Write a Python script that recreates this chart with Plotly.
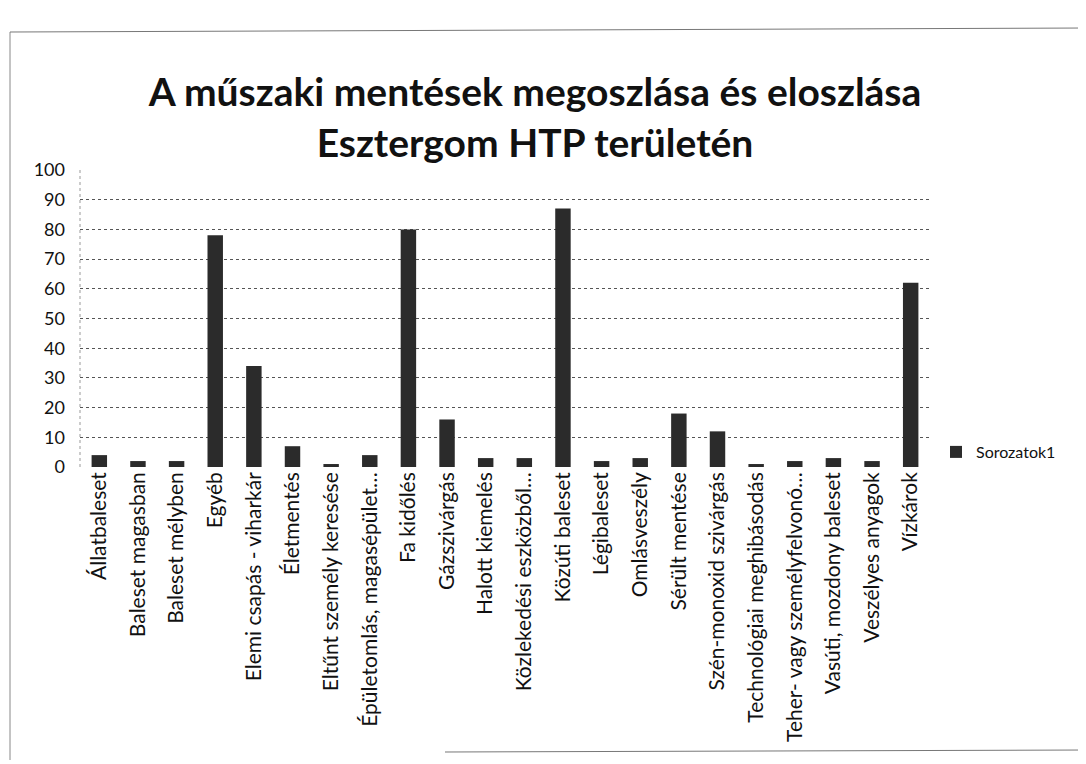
import plotly.graph_objects as go

categories = [
    "Állatbaleset", "Baleset magasban", "Baleset mélyben", "Egyéb",
    "Elemi csapás - viharkár", "Életmentés", "Eltűnt személy keresése",
    "Épületomlás, magasépület…", "Fa kidőlés", "Gázszivárgás",
    "Halott kiemelés", "Közlekedési eszközből…", "Közúti baleset",
    "Légibaleset", "Omlásveszély", "Sérült mentése", "Szén-monoxid szivárgás",
    "Technológiai meghibásodás", "Teher- vagy személyfelvonó…",
    "Vasúti, mozdony baleset", "Veszélyes anyagok", "Vízkárok",
]
values = [4, 2, 2, 78, 34, 7, 1, 4, 80, 16, 3, 3, 87, 2, 3, 18, 12, 1, 2, 3, 2, 62]
series_name = "Sorozatok1"
title_text = "A műszaki mentések megoszlása és eloszlása<br>Esztergom HTP területén"
y_ticks = list(range(0, 101, 10))

OFF = 8  # page body margin
W, H = 1086, 764
L, T = 80 - OFF, 170 - OFF
pw, ph = 850, 297
R = W - L - pw
B = H - T - ph

def px_x(x):
    return (x - OFF - L) / pw

def px_y(y):
    return (T + ph - (y - OFF)) / ph

fig = go.Figure()
fig.add_trace(go.Bar(
    x=categories, y=values, name=series_name,
    marker=dict(color="#2b2b2b", line=dict(width=0)),
    showlegend=True,
))

fig.update_layout(
    width=W, height=H,
    margin=dict(l=L, r=R, t=T, b=B),
    paper_bgcolor="white", plot_bgcolor="white",
    font=dict(family="Lato, Liberation Sans, sans-serif", color="#111111"),
    title=dict(text=title_text, x=(535 - OFF) / W, xanchor="center",
               y=1 - (106 - OFF) / H, yanchor="middle",
               font=dict(family="Lato, Open Sans, sans-serif", size=39, color="#111111",
                         weight="bold")),
    bargap=0.6,
    showlegend=True,
    legend=dict(x=px_x(936), y=px_y(452), xanchor="left", yanchor="middle",
                font=dict(size=16, color="#111111"), bgcolor="rgba(0,0,0,0)",
                itemwidth=30),
    xaxis=dict(tickangle=-90, tickfont=dict(size=21, color="#111111"),
               showline=False, showgrid=False, ticks=""),
    yaxis=dict(range=[0, 100], tickvals=y_ticks, ticktext=[str(v) for v in y_ticks],
               tickfont=dict(size=18, color="#111111"),
               showgrid=True, gridcolor="#555555", griddash="dot", gridwidth=1,
               zeroline=False, showline=False, ticklabelstandoff=14),
)

# chart frame
fig.add_shape(type="line", xref="paper", yref="paper",
              x0=px_x(10), x1=px_x(10), y0=px_y(760), y1=px_y(32),
              line=dict(color="#888888", width=1))
fig.add_shape(type="line", xref="paper", yref="paper",
              x0=px_x(10), x1=px_x(1090), y0=px_y(32), y1=px_y(28),
              line=dict(color="#777777", width=1))
fig.add_shape(type="line", xref="paper", yref="paper",
              x0=px_x(445), x1=px_x(1090), y0=px_y(752), y1=px_y(750),
              line=dict(color="#777777", width=1))
fig.add_shape(type="line", xref="paper", yref="paper",
              x0=px_x(80), x1=px_x(80), y0=0, y1=1,
              line=dict(color="#999999", width=1, dash="dot"))

fig.write_html("out.html")
